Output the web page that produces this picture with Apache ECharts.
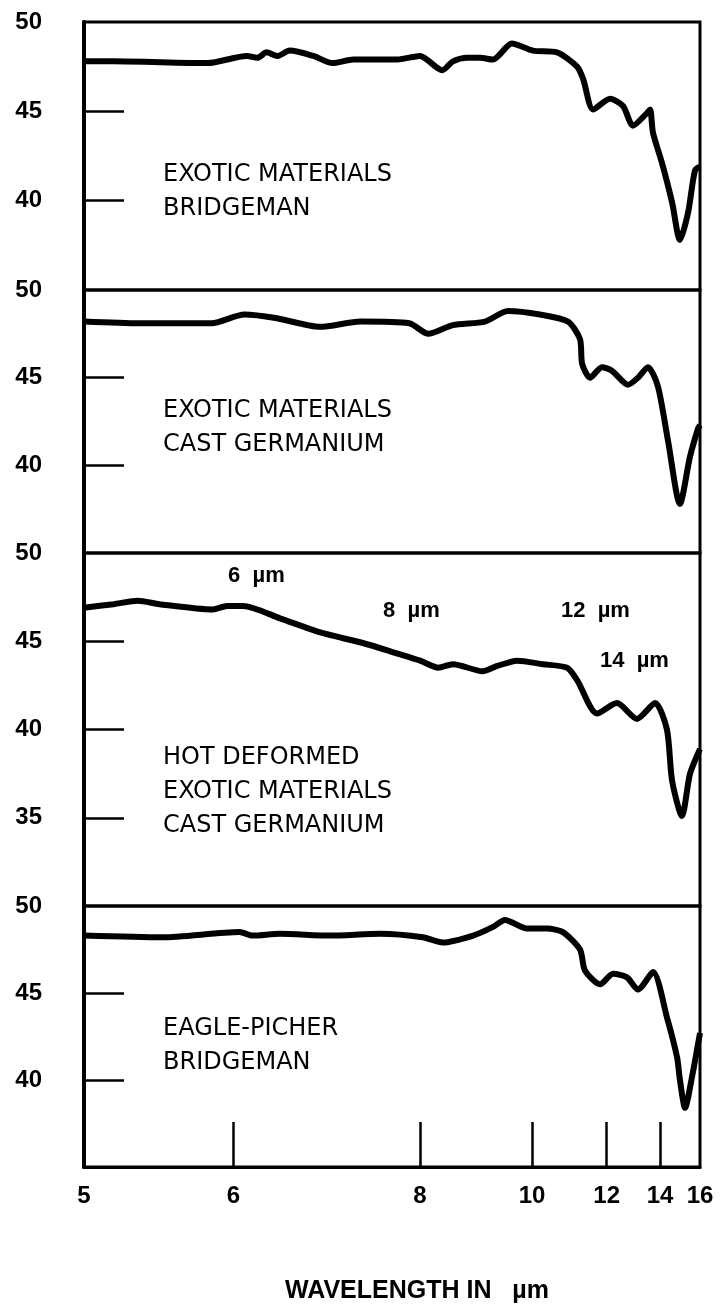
<!DOCTYPE html>
<html>
<head>
    <meta charset="utf-8">
    <title>Transmission spectra</title>
    <script src="https://cdn.jsdelivr.net/npm/echarts@6/dist/echarts.min.js"></script>
    <style>
        html, body { margin: 0; padding: 0; background: #fff; }
        #chart { width: 727px; height: 1313px; }
    </style>
</head>
<body>
    <div id="chart"></div>
    <script>
        // wavelength in um, transmission in %
        var wl1 = [5.00, 5.17, 5.80, 6.11, 6.20, 6.28, 6.38, 6.49, 6.72, 6.92, 7.15, 7.69, 8.00, 8.33, 8.50, 8.73, 8.96, 9.20, 9.57, 10.02, 10.59, 11.12, 11.29, 11.58, 12.11, 12.55, 12.91, 13.45, 13.58, 13.70, 14.09, 14.55, 14.93, 15.34, 15.72, 16.00];
        var t1 = [47.8, 47.8, 47.7, 48.1, 48.0, 48.3, 48.1, 48.4, 48.1, 47.7, 47.9, 47.9, 48.1, 47.3, 47.8, 48.0, 48.0, 47.9, 48.8, 48.4, 48.3, 47.5, 46.8, 45.1, 45.7, 45.3, 44.2, 44.9, 45.1, 43.8, 42.1, 39.9, 37.8, 39.3, 41.7, 41.9];

        var wl2 = [5.00, 5.33, 5.83, 6.09, 6.36, 6.79, 7.23, 7.85, 8.12, 8.50, 9.05, 9.49, 10.18, 10.87, 11.20, 11.26, 11.49, 11.85, 12.17, 12.73, 13.10, 13.49, 13.91, 14.36, 14.93, 15.45, 15.89, 16.00];
        var t2 = [48.2, 48.1, 48.1, 48.6, 48.4, 47.9, 48.2, 48.1, 47.5, 48.0, 48.2, 48.8, 48.6, 48.2, 47.2, 45.8, 45.0, 45.6, 45.4, 44.6, 45.0, 45.6, 44.5, 41.4, 37.8, 40.5, 42.1, 42.3];

        var wl3 = [5.00, 5.17, 5.32, 5.46, 5.84, 5.95, 6.08, 6.40, 6.79, 7.26, 7.69, 8.00, 8.27, 8.50, 9.01, 9.28, 9.68, 10.25, 10.85, 11.12, 11.70, 12.34, 13.06, 13.79, 14.31, 14.55, 15.03, 15.45, 16.00];
        var t3 = [46.9, 47.1, 47.3, 47.1, 46.8, 47.0, 47.0, 46.3, 45.5, 44.9, 44.3, 43.9, 43.5, 43.7, 43.3, 43.6, 43.9, 43.7, 43.5, 42.8, 40.9, 41.5, 40.6, 41.5, 40.0, 37.1, 35.1, 37.5, 38.9];

        var wl4 = [5.00, 5.48, 6.05, 6.16, 6.40, 6.89, 7.47, 8.04, 8.34, 8.84, 9.20, 9.43, 9.89, 10.35, 10.74, 11.20, 11.34, 11.79, 12.21, 12.69, 13.10, 13.70, 14.31, 14.79, 14.93, 15.19, 15.56, 16.00];
        var t4 = [48.3, 48.2, 48.5, 48.3, 48.4, 48.3, 48.4, 48.2, 47.9, 48.3, 48.8, 49.2, 48.7, 48.7, 48.5, 47.5, 46.3, 45.5, 46.1, 45.9, 45.2, 46.2, 43.6, 41.3, 40.0, 38.4, 40.2, 42.7];

        var xLabels = [5, 6, 8, 10, 12, 14, 16];
        var xTicks = [6, 8, 10, 12, 14];
        var yMins = [35, 35, 30, 35];
        var yLabels = [[50, 45, 40], [50, 45, 40], [50, 45, 40, 35], [50, 45, 40]];
        var yTicks = [[45, 40], [45, 40], [45, 40, 35], [45, 40]];
        var panelText = [
            ['EXOTIC MATERIALS', 'BRIDGEMAN'],
            ['EXOTIC MATERIALS', 'CAST GERMANIUM'],
            ['HOT DEFORMED', 'EXOTIC MATERIALS', 'CAST GERMANIUM'],
            ['EAGLE-PICHER', 'BRIDGEMAN']
        ];

        // the x scale is linear in wavenumber
        function wn(w) { return 10000 / w; }

        var chart = echarts.init(document.getElementById('chart'));

        var gridTops = [22, 290, 553, 906];
        var gridHeights = [268, 263, 353, 261];
        var textTops = [163, 399, 746, 1017];
        var waves = [wl1, wl2, wl3, wl4];
        var trans = [t1, t2, t3, t4];
        var numFont = 'Liberation Sans';

        var grids = [], xAxes = [], yAxes = [], series = [], graphics = [];
        for (var i = 0; i < 4; i++) {
            var last = i === 3;
            grids.push({
                left: 84, width: 616, top: gridTops[i], height: gridHeights[i],
                show: true, borderColor: '#000', borderWidth: 3, backgroundColor: 'transparent'
            });
            xAxes.push({
                gridIndex: i, type: 'value', min: 625, max: 2000, inverse: true,
                splitLine: { show: false },
                axisLine: { show: last, lineStyle: { color: '#000', width: 3 } },
                axisTick: { show: last, inside: true, length: 45, customValues: xTicks.map(wn), lineStyle: { color: '#000', width: 2.5 } },
                axisLabel: {
                    show: last, customValues: xLabels.map(wn), margin: 17,
                    color: '#000', fontSize: 24, fontWeight: 'bold', fontFamily: numFont,
                    formatter: function (v) { return String(Math.round(10000 / v)); }
                },
                name: last ? 'WAVELENGTH IN   \u00b5m' : '',
                nameLocation: 'middle', nameGap: 112,
                nameTextStyle: { color: '#000', fontSize: 25, fontWeight: 'bold', fontFamily: numFont, padding: [0, 0, 0, 50] }
            });
            yAxes.push({
                gridIndex: i, type: 'value', min: yMins[i], max: 50,
                splitLine: { show: false },
                axisLine: { show: true, lineStyle: { color: '#000', width: 4 } },
                axisTick: { show: true, inside: true, length: 40, customValues: yTicks[i], lineStyle: { color: '#000', width: 2.5 } },
                axisLabel: {
                    customValues: yLabels[i], margin: 42,
                    color: '#000', fontSize: 24, fontWeight: 'bold', fontFamily: numFont
                }
            });
            series.push({
                type: 'line', xAxisIndex: i, yAxisIndex: i,
                data: waves[i].map(function (w, k) { return [wn(w), this[k]]; }, trans[i]),
                showSymbol: false, smooth: 0.25,
                lineStyle: { color: '#000', width: 6 }
            });
            panelText[i].forEach(function (s, k) {
                graphics.push({
                    type: 'text', left: 163, top: textTops[i] + k * 34,
                    style: { text: s, fill: '#000', font: '24px "DejaVu Sans"' }
                });
            });
        }

        // wavelength notes in the third panel
        [['6  \u00b5m', 228, 565], ['8  \u00b5m', 383, 600], ['12  \u00b5m', 561, 600], ['14  \u00b5m', 600, 650]].forEach(function (a) {
            graphics.push({
                type: 'text', left: a[1], top: a[2],
                style: { text: a[0], fill: '#000', font: 'bold 22px "Liberation Sans"' }
            });
        });

        var option = {
            animation: false,
            backgroundColor: '#fff',
            grid: grids,
            xAxis: xAxes,
            yAxis: yAxes,
            series: series,
            graphic: graphics
        };
        chart.setOption(option);
    </script>
</body>
</html>
